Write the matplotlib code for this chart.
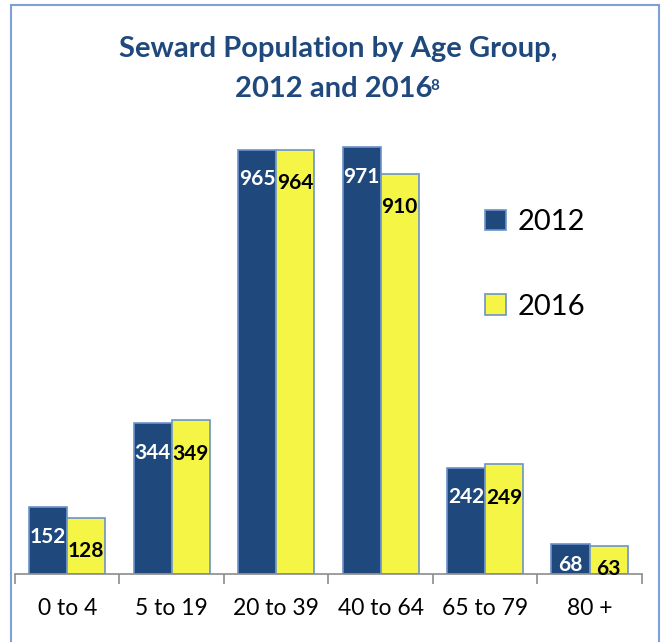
import numpy as np
import matplotlib.pyplot as plt
from matplotlib.patches import Rectangle

# datos
grupos = ["0 to 4", "5 to 19", "20 to 39", "40 to 64", "65 to 79", "80 +"]
pob_2012 = [152, 344, 965, 971, 242, 68]
pob_2016 = [128, 349, 964, 910, 249, 63]
series = ["2012", "2016"]

azul = "#1F497D"
amarillo = "#F5F545"
borde = "#6C93CC"

plt.rcParams['font.family'] = ['Lato', 'DejaVu Sans']

fig = plt.figure(figsize=(6.64, 6.42), dpi=100)
ax = fig.add_axes([0.0226, 0.106, 0.944, 0.685])

x = np.arange(len(grupos))
w = 0.365
b1 = ax.bar(x - w / 2, pob_2012, w, color=azul, edgecolor=borde, linewidth=1.2, label=series[0])
b2 = ax.bar(x + w / 2, pob_2016, w, color=amarillo, edgecolor=borde, linewidth=1.2, label=series[1])

# etiquetas de valores
for xi, v in zip(x, pob_2012):
    ax.text(xi - w / 2, max(v - 68, v * 0.3), str(v), ha="center", va="center",
            color="white", fontsize=15, fontweight="bold")
for xi, v in zip(x, pob_2016):
    ax.text(xi + w / 2, max(v - 68, v * 0.3) - 8, str(v), ha="center", va="center",
            color="black", fontsize=15, fontweight="bold")

ax.set_xlim(-0.5, len(grupos) - 0.5)
ax.set_ylim(0, 1000)
ax.set_yticks([])
ax.set_xticks(x)
ax.set_xticklabels(grupos, fontsize=16.5)
ax.set_xticks(np.arange(len(grupos) + 1) - 0.5, minor=True)
ax.tick_params(axis="x", which="major", length=0, pad=17)
ax.tick_params(axis="x", which="minor", length=7, color="#8C8C8C", width=1.2)
for lado in ["top", "right", "left"]:
    ax.spines[lado].set_visible(False)
ax.spines["bottom"].set_color("#8C8C8C")
ax.spines["bottom"].set_linewidth(1.2)

# titulo
fig.text(0.509, 0.924, "Seward Population by Age Group,", ha="center", va="center",
         fontsize=21, fontweight="bold", color=azul)
t2 = fig.text(0.502, 0.861, "2012 and 2016", ha="center", va="center",
              fontsize=21, fontweight="bold", color=azul)
fig.canvas.draw()
bb = t2.get_window_extent().transformed(fig.transFigure.inverted())
fig.text(bb.x1 - 0.002, bb.y1 - 0.004, "8", ha="left", va="top",
         fontsize=11, fontweight="bold", color=azul)

# leyenda
ax.legend(loc="upper left", bbox_to_anchor=(0.708, 0.889), frameon=False, fontsize=21,
          handlelength=0.72, handleheight=0.72, labelspacing=2.0, handletextpad=0.4)

# borde de la figura
fig.patches.append(Rectangle((11 / 664, -0.01), 648 / 664, 1 - 5 / 642 + 0.01,
                             transform=fig.transFigure, fill=False,
                             edgecolor="#7FA0D4", linewidth=1.5))

plt.savefig("out.png", dpi=100)
